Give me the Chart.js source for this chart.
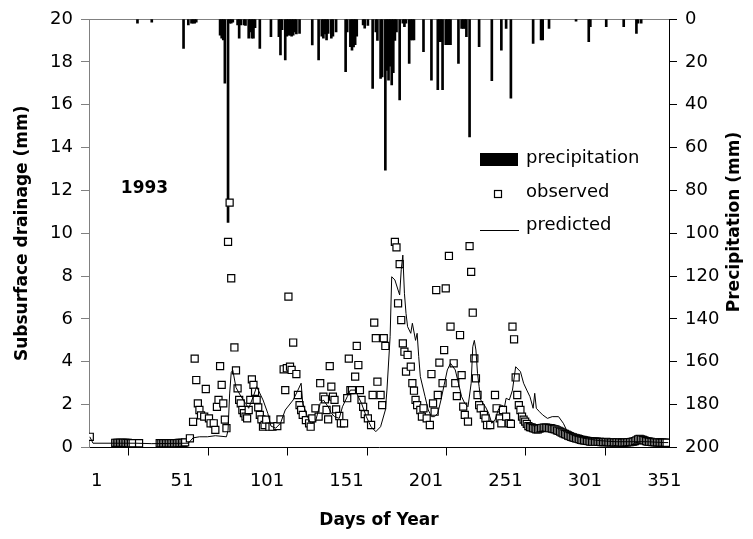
<!DOCTYPE html>
<html>
<head>
<meta charset="utf-8">
<script src="https://cdn.jsdelivr.net/npm/chart.js@4"></script>
<style>
  html, body { margin: 0; padding: 0; background: #fff; }
</style>
</head>
<body>
<canvas id="myChart" width="753" height="539"></canvas>
<script>
// values

// x axis labels (day of year)
const tickDays = [1, 51, 101, 151, 201, 251, 301, 351];

// daily precipitation (mm), hanging from the top on the right axis
const precipDays = [31, 40, 60, 63, 65, 66, 67, 68, 83, 84, 85, 86, 88, 89, 90, 91,
  94, 95, 96, 98, 99, 101, 102, 103, 104, 105, 108, 115, 120, 121, 122, 124, 125, 126,
  127, 128, 129, 130, 131, 133, 141, 145, 147, 148, 149, 150, 151, 153, 154, 156,
  162, 163, 165, 166, 167, 168, 169, 173, 174, 176, 179, 181, 182, 184, 185, 187,
  188, 189, 190, 191, 192, 193, 194, 196, 198, 199, 200, 202, 203, 204, 205, 211,
  216, 220, 221, 222, 223, 225, 226, 227, 228, 233, 235, 236, 237, 238, 240, 246,
  254, 260, 263, 266, 280, 285, 286, 290, 307, 315, 316, 326, 337, 345, 346, 348];
const precipMm = [2, 1.5, 13.7, 2.8, 2, 2, 2, 1.5, 7.5, 9, 9.8, 30, 95, 2, 2, 1.5,
  2.8, 9, 2.8, 2.8, 3, 9, 6, 9, 9, 4, 13.7, 8.2, 8.2, 16.8, 5, 19.1, 8, 7.5,
  7.5, 8, 7.5, 6, 7, 6.7, 12.1, 19.1, 8, 9, 7, 9.8, 6.7, 9, 8, 6,
  24.6, 6, 12.9, 14.5, 13, 12, 8, 2.8, 4.3, 3, 32.4, 6, 10, 27.7, 27, 70.5,
  24, 28.5, 22, 30.8, 25, 10, 6, 37.8, 2, 3.6, 2, 20.7, 9.8, 9.8, 9.8, 15.2,
  28.5, 33, 10.6, 10.6, 33, 12, 12, 12, 12, 20.7, 4.4, 4.4, 4.4, 8.2, 55, 12.9,
  28.8, 14.5, 4.4, 37, 11.4, 9.8, 9.8, 4.4, 1, 10.6, 3.6, 3.6, 3.6, 6.7, 2, 2];

// observed subsurface drainage (mm)
const obsDays = [1, 17, 18, 19, 20, 21, 22, 23, 24, 25, 26, 27, 28, 32,
  45, 46, 47, 48, 49, 50, 51, 52, 53, 54, 55, 56, 57, 58, 59, 60, 61, 64,
  66, 67, 68, 69, 70, 71, 73, 74, 76, 77, 79, 80, 81, 82, 83, 84, 85, 86, 87,
  88, 89, 90, 92, 93, 94, 95, 96, 97, 98, 99, 100, 101, 102, 103, 104, 105, 106,
  107, 108, 109, 110, 111, 112, 114, 116, 119, 121, 123, 124, 125, 126, 127, 128,
  129, 131, 132, 133, 134, 135, 137, 139, 140, 141, 143, 145, 146, 148, 149, 150,
  151, 152, 153, 154, 155, 156, 158, 159, 161, 163, 164, 165, 166, 168, 169, 170,
  171, 172, 173, 174, 176, 178, 179, 180, 181, 182, 184, 185, 186, 187, 193, 194,
  195, 196, 197, 198, 199, 200, 201, 203, 204, 205, 206, 207, 209, 210, 211, 213,
  215, 216, 217, 218, 219, 220, 221, 223, 224, 225, 227, 228, 230, 231, 232, 234,
  235, 236, 237, 239, 240, 241, 242, 243, 244, 245, 246, 247, 249, 250, 251, 253,
  256, 257, 259, 260, 261, 263, 265, 266, 267, 268, 269, 270, 271, 272, 273, 274,
  275, 276, 277, 278, 279, 280, 281, 282, 283, 284, 285, 286, 287, 288, 289, 290,
  291, 292, 293, 294, 295, 296, 297, 298, 299, 300, 301, 302, 303, 304, 305, 306,
  307, 308, 309, 310, 311, 312, 313, 314, 315, 316, 317, 318, 319, 320, 321, 322,
  323, 324, 325, 326, 327, 328, 329, 330, 331, 332, 333, 334, 335, 336, 337, 338,
  339, 340, 341, 342, 343, 344, 345, 346, 347, 348, 349, 350, 351, 352, 353, 354,
  355, 356, 357, 358, 359, 360, 361, 362, 363, 364];
const obsDrain = [0.5, 0.22, 0.22, 0.22, 0.22, 0.22, 0.22, 0.22, 0.21, 0.21, 0.2, 0.2, 0.2, 0.2,
  0.2, 0.2, 0.2, 0.2, 0.2, 0.2, 0.2, 0.2, 0.2, 0.2, 0.2, 0.2, 0.21, 0.21, 0.21, 0.22, 0.24, 0.43,
  1.2, 4.15, 3.15, 2.06, 1.75, 1.5, 1.44, 2.73, 1.36, 1.13, 1.13, 0.82, 1.9, 2.22, 3.8, 2.92, 2.06, 1.3, 0.9,
  9.6, 11.43, 7.9, 4.67, 3.6, 2.76, 2.22, 2.06, 1.75, 1.6, 1.44, 1.36, 1.75, 2.22, 3.18, 2.92, 2.6, 2.22,
  1.87, 1.52, 1.31, 0.97, 1.05, 1.3, 0.97, 0.97, 1.0, 1.31, 3.65, 2.68, 3.7, 7.04, 3.77, 3.62,
  4.9, 3.43, 2.45, 1.98, 1.75, 1.52, 1.28, 1.13, 0.97, 1.36, 1.83, 1.44, 3.0, 2.37, 2.25, 1.75,
  1.31, 3.8, 2.84, 2.37, 2.22, 1.78, 1.47, 1.13, 1.13, 2.3, 4.15, 2.68, 2.68, 3.31, 4.74, 3.85,
  2.68, 2.22, 1.9, 1.56, 1.36, 1.05, 2.45, 5.83, 5.1, 3.07, 2.45, 1.98, 5.1, 4.74, 9.6, 9.34,
  6.73, 8.56, 5.95, 4.86, 4.47, 3.54, 4.32, 3.77, 3.0, 2.65, 2.22, 1.98, 1.75, 1.44, 1.83, 1.36,
  1.05, 3.43, 2.06, 1.67, 7.35, 2.45, 3.96, 3.0, 4.55, 7.43, 8.94, 5.64, 3.93, 3.0, 2.4, 5.25,
  3.38, 1.91, 1.52, 1.21, 9.4, 8.2, 6.29, 4.16, 3.23, 2.45, 1.98, 1.83, 1.52, 1.36, 1.05, 1.05,
  2.45, 1.83, 1.36, 1.13, 1.75, 1.44, 1.13, 1.1, 5.64, 5.05, 3.27, 2.45, 1.98, 1.75, 1.44, 1.3,
  1.21, 1.1, 1.0, 0.95, 0.94, 0.9, 0.88, 0.85, 0.85, 0.88, 0.9, 0.92, 0.93, 0.93, 0.92, 0.9,
  0.9, 0.88, 0.86, 0.85, 0.8, 0.78, 0.74, 0.7, 0.66, 0.63, 0.6, 0.56, 0.53, 0.5, 0.47, 0.45,
  0.43, 0.41, 0.39, 0.36, 0.35, 0.33, 0.32, 0.31, 0.3, 0.28, 0.27, 0.27, 0.27, 0.27, 0.26, 0.26,
  0.25, 0.25, 0.25, 0.26, 0.25, 0.24, 0.24, 0.25, 0.24, 0.24, 0.25, 0.24, 0.24, 0.23, 0.23, 0.24,
  0.24, 0.25, 0.25, 0.26, 0.27, 0.3, 0.33, 0.38, 0.4, 0.38, 0.35, 0.33, 0.3, 0.28, 0.27, 0.26,
  0.25, 0.25, 0.24, 0.24, 0.24, 0.23, 0.23, 0.23, 0.23, 0.22];

// predicted subsurface drainage (mm)
const predDays = [1, 3, 30, 40, 63, 66, 70, 75, 80, 87, 88, 89, 90, 91, 93, 96, 99, 101,
  104, 106, 110, 113, 115, 118, 121, 124, 129, 132, 134, 135, 138, 140, 143, 146, 148,
  151, 153, 155, 158, 160, 163, 165, 168, 170, 172, 175, 178, 181, 184, 187, 188, 190,
  191, 193, 195, 196, 197, 198, 199, 200, 201, 203, 204, 206, 207, 208, 209, 212, 214,
  216, 218, 220, 222, 224, 226, 228, 231, 233, 235, 237, 239, 241, 242, 243, 244, 245,
  246, 247, 250, 252, 254, 256, 258, 260, 262, 263, 265, 267, 269, 272, 274, 276, 278,
  280, 281, 282, 284, 286, 289, 292, 296, 299, 301, 304, 307, 312, 316, 322, 332, 342,
  352, 362, 365];
const predDrain = [0.5, 0.2, 0.2, 0.18, 0.2, 0.45, 0.5, 0.5, 0.55, 0.5, 0.8, 2.5, 3.5, 3.6, 2.8, 2.4, 2.06, 1.83,
  2.4, 2.84, 2.22, 1.6, 1.0, 0.9, 1.13, 1.75, 2.22, 2.68, 3.0, 2.06, 1.44, 1.13, 1.2, 2.06, 2.22,
  1.9, 1.6, 1.44, 1.36, 1.9, 2.37, 2.68, 2.68, 2.37, 2.06, 1.44, 0.97, 0.74, 0.97, 1.75, 2.68, 5.17,
  7.97, 7.82, 7.35, 7.12, 8.3, 8.98, 7.2, 6.26, 5.64, 5.33, 5.8, 5.0, 5.33, 4.24, 3.31, 2.37, 1.75,
  1.44, 1.44, 1.6, 2.22, 2.92, 3.62, 3.93, 3.62, 3.0, 2.37, 2.06, 1.9, 3.0, 4.7, 5.0, 4.55, 3.46,
  2.84, 2.22, 1.9, 1.6, 1.13, 1.28, 1.75, 1.98, 1.9, 2.3, 2.22, 2.68, 3.77, 3.54, 3.0, 2.68, 2.37,
  1.83, 2.53, 1.83, 1.67, 1.52, 1.36, 1.44, 1.44, 1.13, 0.82, 0.59, 0.51, 0.43, 0.38, 0.32, 0.27, 0.27,
  0.27, 0.23, 0.23];

const FONT = 'DejaVu Sans';
Chart.defaults.font.family = FONT;
Chart.defaults.font.size = 18;
Chart.defaults.color = '#000';

// gray top border, legend, year label and right-hand title
const extras = {
  id: 'extras',
  beforeDatasetsDraw(chart) {
    const {ctx, chartArea: a} = chart;
    ctx.save();
    ctx.strokeStyle = '#808080';
    ctx.lineWidth = 1;
    ctx.beginPath();
    ctx.moveTo(a.left, Math.round(a.top) + 0.5);
    ctx.lineTo(a.right, Math.round(a.top) + 0.5);
    ctx.stroke();
    ctx.restore();
  },
  afterDraw(chart) {
    const ctx = chart.ctx;
    ctx.save();
    ctx.fillStyle = '#000';
    ctx.strokeStyle = '#000';

    // legend
    ctx.fillRect(480, 153, 38, 13);
    ctx.lineWidth = 1.2;
    ctx.fillStyle = '#fff';
    ctx.fillRect(494.5, 190.5, 7, 7);
    ctx.strokeRect(494.5, 190.5, 7, 7);
    ctx.fillStyle = '#000';
    ctx.lineWidth = 1;
    ctx.beginPath();
    ctx.moveTo(480, 230.5);
    ctx.lineTo(519, 230.5);
    ctx.stroke();

    ctx.font = '18px ' + FONT;
    ctx.textAlign = 'left';
    ctx.textBaseline = 'middle';
    ctx.fillText('precipitation', 526, 158);
    ctx.fillText('observed', 526, 192);
    ctx.fillText('predicted', 526, 225);

    // year
    ctx.font = 'bold 17px ' + FONT;
    ctx.textAlign = 'center';
    ctx.fillText('1993', 144.5, 189);

    // right axis title, reading bottom to top
    ctx.translate(735, 222);
    ctx.rotate(-Math.PI / 2);
    ctx.fillText('Precipitation (mm)', 0, 0);
    ctx.restore();
  }
};

const ctx = document.getElementById('myChart').getContext('2d');
const myChart = new Chart(ctx, {
  type: 'scatter',
  data: {
    datasets: [
      {
        type: 'line',
        label: 'predicted',
        data: predDays.map((d, i) => ({x: d, y: predDrain[i]})),
        borderColor: '#000',
        borderWidth: 1,
        pointRadius: 0,
        tension: 0,
        showLine: true,
        yAxisID: 'y',
        order: 0
      },
      {
        type: 'scatter',
        label: 'observed',
        data: obsDays.map((d, i) => ({x: d, y: obsDrain[i]})),
        pointStyle: 'rect',
        pointRadius: 5,
        borderColor: '#000',
        backgroundColor: '#fff',
        borderWidth: 1.2,
        yAxisID: 'y',
        order: 1
      },
      {
        type: 'bar',
        label: 'precipitation',
        data: precipDays.map((d, i) => ({x: d, y: precipMm[i]})),
        backgroundColor: '#000',
        barThickness: 2,
        yAxisID: 'y2',
        order: 2
      }
    ]
  },
  options: {
    responsive: false,
    animation: false,
    layout: { padding: { top: 19, left: 0, right: 0, bottom: 0 } },
    plugins: { legend: { display: false }, tooltip: { enabled: false } },
    scales: {
      x: {
        type: 'linear',
        position: 'bottom',
        min: 0.5,
        max: 365.5,
        offset: false,
        afterBuildTicks: s => { s.ticks = tickDays.map(d => ({value: d - 0.5})); },
        afterFit: s => { s.height = 91.5; },
        grid: { drawOnChartArea: false, tickLength: 8, color: '#000' },
        border: { color: '#000' },
        ticks: { align: 'start', labelOffset: 2, padding: 15, maxRotation: 0, autoSkip: false,
                 callback: v => String(v + 0.5) },
        title: { display: true, text: 'Days of Year', font: { weight: 'bold', size: 17 },
                 padding: { top: 0, bottom: 8 } }
      },
      y: {
        position: 'left',
        min: 0,
        max: 20,
        afterFit: s => { s.width = 89; },
        grid: { drawOnChartArea: false, tickLength: 8, color: '#808080' },
        border: { color: '#808080' },
        ticks: { stepSize: 2, padding: 8 },
        title: { display: true, text: 'Subsurface drainage (mm)', font: { weight: 'bold', size: 17 },
                 padding: { top: 12, bottom: 0 } }
      },
      y2: {
        position: 'right',
        reverse: true,
        min: 0,
        max: 200,
        afterFit: s => { s.width = 84; },
        grid: { drawOnChartArea: false, tickLength: 8, color: '#000' },
        border: { color: '#000' },
        ticks: { stepSize: 20, padding: 8 }
      }
    }
  },
  plugins: [extras]
});
</script>
</body>
</html>
